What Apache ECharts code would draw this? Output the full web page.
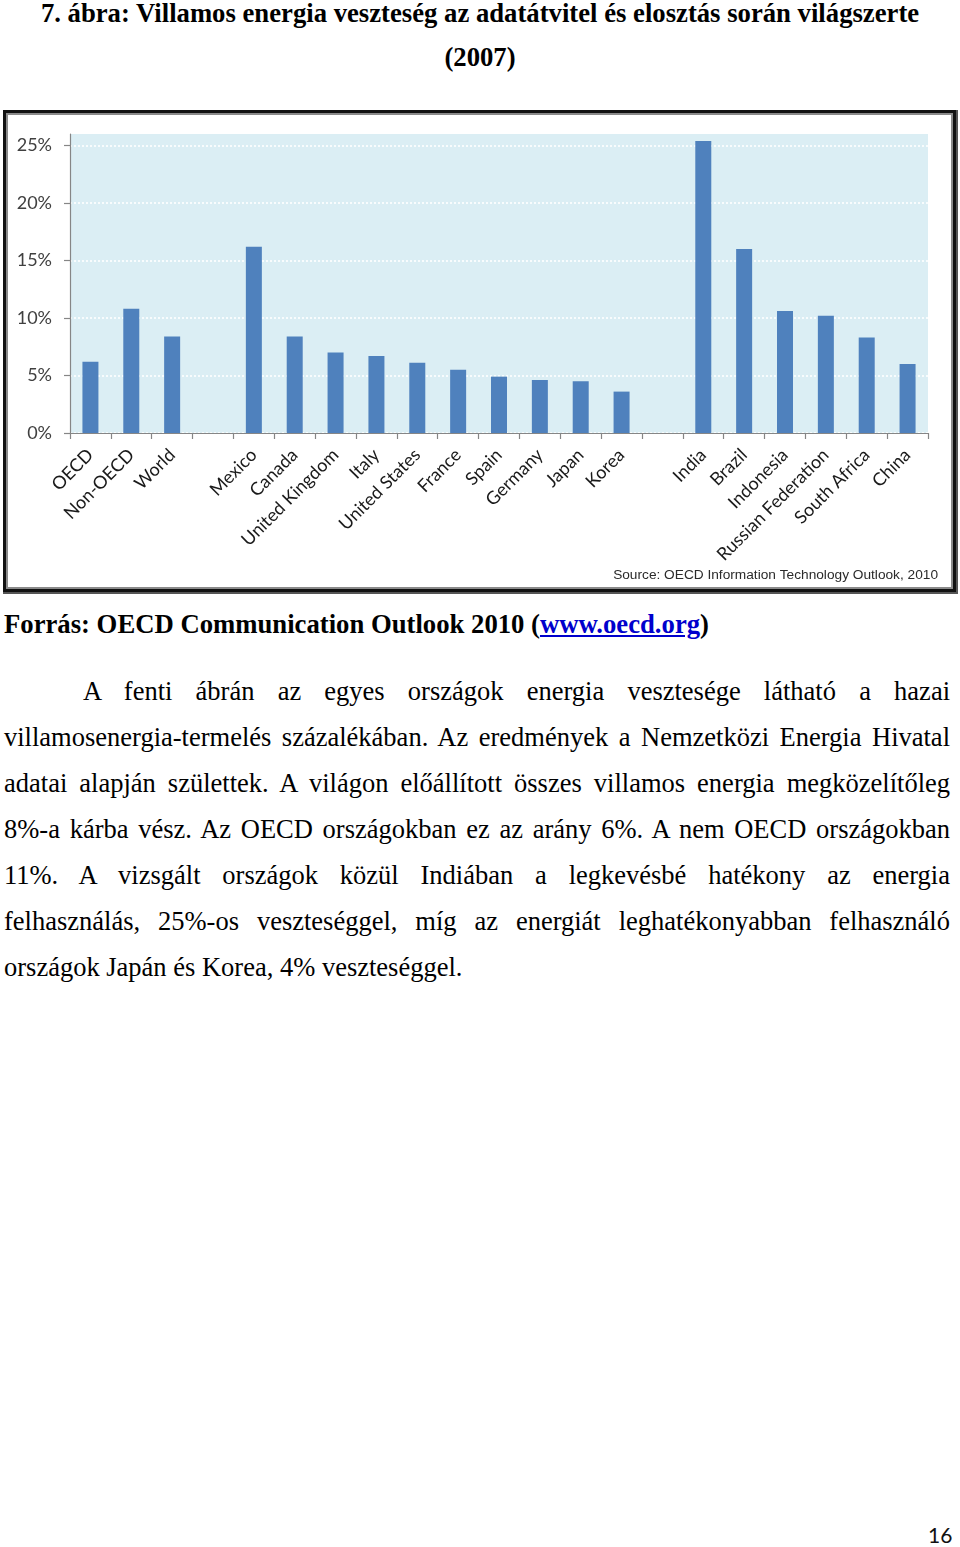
<!DOCTYPE html>
<html>
<head>
<meta charset="utf-8">
<script src="https://cdn.jsdelivr.net/npm/echarts@6/dist/echarts.min.js"></script>
<style>
  html, body { margin: 0; padding: 0; background: #fff; }
  #page { position: relative; width: 960px; height: 1547px; overflow: hidden; background: #fff; }
  .serif { font-family: "Liberation Serif", "Times New Roman", serif; color: #000; }
  .title { position: absolute; left: 0; width: 960px; text-align: center; font-weight: bold; font-size: 26.7px; line-height: 44px; white-space: nowrap; }
  #frame { position: absolute; left: 3px; top: 110px; width: 947px; height: 476px; border: 3px solid #111; box-shadow: inset 0 0 0 2px #8a8a8a, 1px 1px 0 1px #555; background: #fff; }
  #chart { position: absolute; left: 0; top: 100px; width: 960px; height: 500px; }
  #forras { position: absolute; left: 4px; top: 601px; font-weight: bold; font-size: 26.7px; line-height: 46px; white-space: nowrap; }
  #forras a { color: #0000cc; text-decoration: underline; }
  #para { position: absolute; left: 4px; top: 668px; width: 946px; font-size: 26.5px; line-height: 46px; }
  #para .ln { text-align: justify; text-align-last: justify; white-space: nowrap; height: 46px; }
  #para .ln.first { padding-left: 79px; }
  #para .ln.last { text-align: left; text-align-last: left; }
  #pnum { position: absolute; left: 928px; top: 1522px; font-family: "Lato", "Open Sans", sans-serif; font-size: 21px; line-height: 26px; color: #111; }
</style>
</head>
<body>
<div id="page">
  <div class="title serif" style="top:-9px;">7. ábra: Villamos energia veszteség az adatátvitel és elosztás során világszerte</div>
  <div class="title serif" style="top:35px;">(2007)</div>
  <div id="frame"></div>
  <div id="chart"></div>
  <div id="forras" class="serif">Forrás: OECD Communication Outlook 2010 (<a>www.oecd.org</a>)</div>
  <div id="para" class="serif">
    <div class="ln first">A fenti ábrán az egyes országok energia vesztesége látható a hazai</div>
    <div class="ln">villamosenergia-termelés százalékában. Az eredmények a Nemzetközi Energia Hivatal</div>
    <div class="ln">adatai alapján születtek. A világon előállított összes villamos energia megközelítőleg</div>
    <div class="ln">8%-a kárba vész. Az OECD országokban ez az arány 6%. A nem OECD országokban</div>
    <div class="ln">11%. A vizsgált országok közül Indiában a legkevésbé hatékony az energia</div>
    <div class="ln">felhasználás, 25%-os veszteséggel, míg az energiát leghatékonyabban felhasználó</div>
    <div class="ln last">országok Japán és Korea, 4% veszteséggel.</div>
  </div>
  <div id="pnum">16</div>
</div>
<script>
// Data
const categories = ['OECD', 'Non-OECD', 'World', ' ', 'Mexico', 'Canada', 'United Kingdom', 'Italy',
  'United States', 'France', 'Spain', 'Germany', 'Japan', 'Korea', '  ', 'India', 'Brazil',
  'Indonesia', 'Russian Federation', 'South Africa', 'China'];
const lossPercent = [6.2, 10.8, 8.4, null, 16.2, 8.4, 7.0, 6.7, 6.1, 5.5, 4.9, 4.6, 4.5, 3.6, null,
  25.4, 16.0, 10.6, 10.2, 8.3, 6.0];
const yTicks = [0, 5, 10, 15, 20, 25];
const sourceText = 'Source: OECD Information Technology Outlook, 2010';

const chart = echarts.init(document.getElementById('chart'), null, { renderer: 'canvas' });
chart.setOption({
  animation: false,
  title: {
    text: sourceText,
    right: 22,
    top: 468,
    padding: 0,
    textStyle: { fontFamily: 'Liberation Sans', fontSize: 13.7, fontWeight: 'normal', color: '#2a2a2a' }
  },
  grid: {
    left: 70, top: 34, width: 858, height: 299,
    show: true, backgroundColor: '#DBEEF4', borderWidth: 0
  },
  xAxis: {
    type: 'category',
    data: categories,
    boundaryGap: true,
    axisLine: { show: true, lineStyle: { color: '#868686', width: 1.2 } },
    axisTick: { show: true, alignWithLabel: false, interval: 0, length: 6, lineStyle: { color: '#868686', width: 1.2 } },
    axisLabel: {
      interval: 0, rotate: 45, margin: 19,
      fontFamily: 'Lato', fontSize: 18, color: '#1a1a1a'
    },
    splitLine: { show: false }
  },
  yAxis: {
    type: 'value',
    min: 0, max: 26,
    axisLine: { show: true, lineStyle: { color: '#868686', width: 1.2 } },
    axisTick: { show: true, inside: false, length: 6, customValues: yTicks, lineStyle: { color: '#868686', width: 1.2 } },
    axisLabel: {
      customValues: yTicks, margin: 18,
      fontFamily: 'Lato', fontSize: 18, color: '#404040',
      formatter: v => v + '%'
    },
    splitLine: { show: true, lineStyle: { color: '#ffffff', width: 1.6, type: [2, 2] } }
  },
  series: [{
    type: 'bar',
    data: lossPercent,
    barWidth: 16,
    itemStyle: { color: '#4F81BD' }
  }]
});
</script>
</body>
</html>
